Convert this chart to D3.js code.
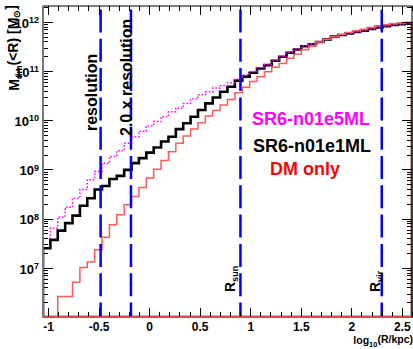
<!DOCTYPE html>
<html><head><meta charset="utf-8">
<script src="https://cdn.jsdelivr.net/npm/d3@7"></script>
<style>
body{margin:0;background:#fff}
svg{display:block}
text{font-family:"Liberation Sans",Arial,Helvetica,sans-serif;font-weight:bold}
</style>
</head><body>
<svg id="c" width="413" height="349"></svg>
<script>
// ---- data ----
const xRange = [-1.05, 2.6];          // log10(R/kpc), histogram range
const nBins = 50;
const yDomain = [1e6, 2.1e12];
// cumulative DM mass M_dm(<R) per bin
const massSR6n01e5ML = [4.0e7,6.4e7,1.08e8,1.7e8,2.6e8,3.9e8,6.2e8,9.1e8,1.34e9,1.83e9,
  2.4e9,3.4e9,4.6e9,6.0e9,7.7e9,9.4e9,1.18e10,1.49e10,1.75e10,2.2e10,
  2.7e10,3.3e10,3.8e10,4.5e10,5.0e10,5.8e10,6.8e10,8.3e10,9.7e10,1.16e11,
  1.34e11,1.64e11,1.98e11,2.4e11,2.8e11,3.25e11,3.55e11,3.95e11,4.45e11,5.05e11,
  5.45e11,5.85e11,6.25e11,6.65e11,7.25e11,7.75e11,8.25e11,8.75e11,9.05e11,9.35e11];
const massSR6n01e1ML = [2.5e7,3.7e7,5.7e7,8.1e7,1.15e8,1.83e8,2.6e8,3.9e8,4.6e8,6.4e8,
  7.4e8,9.8e8,1.34e9,1.7e9,2.2e9,2.8e9,3.7e9,4.6e9,6.6e9,8.7e9,
  1.18e10,1.62e10,2.2e10,2.9e10,3.8e10,4.8e10,6.4e10,7.7e10,9.2e10,1.13e11,
  1.32e11,1.62e11,1.95e11,2.35e11,2.75e11,3.2e11,3.5e11,3.9e11,4.4e11,5.0e11,
  5.4e11,5.8e11,6.2e11,6.6e11,7.2e11,7.7e11,8.2e11,8.7e11,9.0e11,9.3e11];
const massDMOnly = [0,0,2.6e6,2.6e6,5.1e6,1.02e7,1.32e7,2.34e7,4.2e7,7.5e7,
  1.2e8,1.91e8,2.8e8,4.3e8,6.7e8,1.01e9,1.52e9,2.3e9,3.4e9,4.8e9,
  6.6e9,8.9e9,1.22e10,1.58e10,2.04e10,2.64e10,3.6e10,4.7e10,6.1e10,7.7e10,
  9.7e10,1.19e11,1.43e11,1.81e11,2.2e11,2.7e11,3.2e11,3.9e11,4.45e11,5.0e11,
  5.5e11,6.1e11,6.6e11,7.1e11,7.7e11,8.3e11,8.7e11,9.2e11,9.5e11,9.8e11];
const xTickValues = [-1,-0.5,0,0.5,1,1.5,2,2.5];
const xTickLabels = ["-1","-0.5","0","0.5","1","1.5","2","2.5"];
const yTickExponents = [7,8,9,10,11,12];
const markerNames = ["resolution","2.0 x resolution","R_sun","R_vir"];
const markerValues = [-0.48, -0.18, 0.903, 2.301];
const legendLabels = ["SR6-n01e5ML","SR6-n01e1ML","DM only"];

// ---- drawing ----
const svg = d3.select("#c");
const m = {l:43, r:412, t:6, b:317};
const x = d3.scaleLinear().domain(xRange).range([m.l, m.r]);
const y = d3.scaleLog().domain(yDomain).range([m.b, m.t]);
const edges = d3.range(nBins+1).map(i => xRange[0] + i*(xRange[1]-xRange[0])/nBins);

svg.append("defs").append("clipPath").attr("id","plot")
  .append("rect").attr("x",m.l).attr("y",m.t-1).attr("width",m.r-m.l+1).attr("height",m.b-m.t+2);

function histPath(vals){
  const yy = v => v > 0 ? Math.min(m.b, y(v)) : m.b;
  const p = [[x(edges[0]), m.b]];
  vals.forEach((v,i) => { p.push([x(edges[i]), yy(v)]); p.push([x(edges[i+1]), yy(v)]); });
  p.push([x(edges[nBins]), m.b]);
  return d3.line()(p) + "Z";
}

const g = svg.append("g").attr("clip-path","url(#plot)");
g.append("path").attr("d", histPath(massSR6n01e1ML)).attr("fill","none")
  .attr("stroke","#000").attr("stroke-width",2.6);
g.append("path").attr("d", histPath(massSR6n01e5ML)).attr("fill","none")
  .attr("stroke","#ff00ff").attr("stroke-width",1.5).attr("stroke-dasharray","1.6,1.8");
g.append("path").attr("d", histPath(massDMOnly)).attr("fill","none")
  .attr("stroke","#ff5a5a").attr("stroke-width",1.5);

// dashed markers
markerValues.forEach(v => {
  svg.append("line").attr("x1",x(v)).attr("x2",x(v)).attr("y1",m.t).attr("y2",m.b)
    .attr("stroke","#0000ff").attr("stroke-width",2.5)
    .attr("stroke-dasharray","23,6.3").attr("stroke-dashoffset",25.8);
});

// axes
function styleAxis(sel){
  sel.select(".domain").remove();
  sel.selectAll(".tick line").attr("stroke","#000").attr("stroke-width",1).attr("shape-rendering","crispEdges");
}
const xMinor = d3.range(-10, 27).map(i => i/10).filter(v => v >= xRange[0] && v <= xRange[1] && !xTickValues.includes(v));
svg.append("g").attr("transform",`translate(0,${m.b})`)
  .call(d3.axisBottom(x).tickValues(xMinor).tickSizeInner(-5).tickSizeOuter(0).tickFormat(""))
  .call(styleAxis);
svg.append("g").attr("transform",`translate(0,${m.t})`)
  .call(d3.axisTop(x).tickValues(xMinor).tickSizeInner(-5).tickSizeOuter(0).tickFormat(""))
  .call(styleAxis);
svg.append("g").attr("transform",`translate(0,${m.t})`)
  .call(d3.axisTop(x).tickValues(xTickValues).tickSizeInner(-9).tickSizeOuter(0).tickFormat(""))
  .call(styleAxis);
const xAx = svg.append("g").attr("transform",`translate(0,${m.b})`)
  .call(d3.axisBottom(x).tickValues(xTickValues).tickSizeInner(-9).tickSizeOuter(0).tickPadding(5)
    .tickFormat((d,i) => xTickLabels[i]))
  .call(styleAxis);
xAx.selectAll("text").attr("fill","#000").attr("font-size","12px").attr("font-family",null);

const yMajor = d3.range(6,13).map(e => Math.pow(10,e));
const yMinor = [];
d3.range(6,13).forEach(e => d3.range(2,10).forEach(k => { const v = k*Math.pow(10,e); if (v <= yDomain[1]) yMinor.push(v); }));
[["L",m.l],["R",m.r]].forEach(([side,pos]) => {
  const mk = side === "L" ? d3.axisLeft : d3.axisRight;
  svg.append("g").attr("transform",`translate(${pos},0)`)
    .call(mk(y).tickValues(yMinor).tickSizeInner(-5).tickSizeOuter(0).tickFormat(""))
    .call(styleAxis);
  svg.append("g").attr("transform",`translate(${pos},0)`)
    .call(mk(y).tickValues(yMajor).tickSizeInner(-10).tickSizeOuter(0).tickFormat(""))
    .call(styleAxis);
});
// y labels 10^n
const yl = svg.append("g").attr("transform",`translate(${m.l},0)`)
  .call(d3.axisLeft(y).tickValues(yTickExponents.map(e => Math.pow(10,e))).tickSize(0).tickPadding(4).tickFormat(""));
yl.select(".domain").remove();
yl.selectAll(".tick text").each(function(d){
  const t = d3.select(this).attr("fill","#000").attr("font-size","13px").attr("font-family",null).attr("dy","0.4em");
  t.append("tspan").text("10");
  t.append("tspan").attr("dy","-0.5em").attr("font-size","9px").text(Math.round(Math.log10(d)));
});

// frame
svg.append("rect").attr("x",m.l).attr("y",m.t).attr("width",m.r-m.l).attr("height",m.b-m.t)
  .attr("fill","none").attr("stroke","#000").attr("stroke-width",1);
svg.append("line").attr("x1",m.l).attr("x2",m.l).attr("y1",m.t).attr("y2",m.b)
  .attr("stroke","#777").attr("stroke-width",2);
// red bottom edge of the DM-only outline
svg.append("line").attr("x1",m.l).attr("x2",m.r).attr("y1",m.b).attr("y2",m.b)
  .attr("stroke","#ff5a5a").attr("stroke-width",1.5);

// axis titles
const yt = svg.append("text").attr("transform",`translate(19,${m.t-1}) rotate(-90)`)
  .attr("text-anchor","end").attr("font-size","14px").attr("fill","#000");
yt.append("tspan").text("M");
yt.append("tspan").attr("dy","0.3em").attr("font-size","9px").text("dm");
yt.append("tspan").attr("dy","-0.3em").text("(<R) [M");
yt.append("tspan").attr("dy","0.3em").attr("font-size","9px").text("\u2299");
yt.append("tspan").attr("dy","-0.3em").text("]");

const xt = svg.append("text").attr("x",m.r+1).attr("y",344).attr("text-anchor","end")
  .attr("font-size","10.5px").attr("fill","#000");
xt.append("tspan").text("log");
xt.append("tspan").attr("dy","0.35em").attr("font-size","7.5px").text("10");
xt.append("tspan").attr("dy","-0.35em").text("(R/kpc)");

// marker labels
function rotLabel(px, py, size){
  return svg.append("text").attr("transform",`translate(${px},${py}) rotate(-90)`)
    .attr("font-size",size).attr("fill","#000");
}
rotLabel(97, 131, "16px").text(markerNames[0]);
rotLabel(132, 136, "16px").text(markerNames[1]);
[[2,235],[3,380]].forEach(([i,px]) => {
  const [base, sub] = markerNames[i].split("_");
  const t = rotLabel(px, 292, "14px");
  t.append("tspan").text(base);
  t.append("tspan").attr("dy","0.3em").attr("font-size","9px").text(sub);
});

// legend
const legColors = ["#ff00ff","#000000","#ff0000"];
const legPos = [[252,125],[253,152],[270,175]];
legendLabels.forEach((s,i) => {
  svg.append("text").attr("x",legPos[i][0]).attr("y",legPos[i][1]).attr("font-size","18px")
    .attr("fill",legColors[i]).text(s);
});
</script>
</body></html>
